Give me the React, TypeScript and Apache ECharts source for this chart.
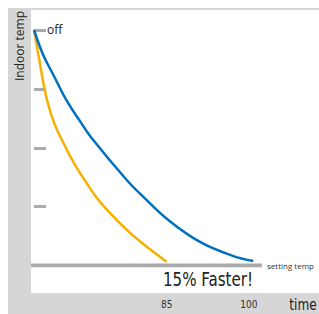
import React, { useEffect, useRef } from "react";
import * as echarts from "echarts";

// time (x) vs indoor temperature (y, 100 = off, 0 = setting temp)
const blueCurve: [number, number][] = [
  [0, 100], [4.2, 89.4], [8.8, 81], [14.9, 70], [20.9, 61.4], [26, 54.5],
  [42.3, 36.3], [50, 29], [61, 19.5], [75.7, 10], [90.9, 4], [100, 1.9],
];
const orangeCurve: [number, number][] = [
  [0, 100], [2, 89.5], [4, 79], [6, 70], [9, 61], [13.4, 52], [18.7, 42.7],
  [24, 35], [30.1, 27], [42.3, 15.1], [51, 8.3], [60.5, 1.6],
];
const settingLine: [number, number][] = [[-1.37, 0], [104, 0]];
const xTickValues = [60.5, 98];
const xTickLabels = ["85", "100"];
const yTicks = [0, 25, 50, 75, 100];

export default function App() {
  const ref = useRef<HTMLDivElement>(null);
  useEffect(() => {
    if (!ref.current) return;
    const chart = echarts.init(ref.current, null, { renderer: "svg" });
    const narrow = "'DejaVu Sans Condensed', 'Liberation Sans Narrow', 'DejaVu Sans', sans-serif";
    chart.setOption({
      animation: false,
      backgroundColor: "#d6d6d6",
      grid: { left: 23, right: 0, top: 22, bottom: 48.5 },
      graphic: [
        { type: "rect", z: -10, shape: { x: 23, y: 2, width: 288, height: 283 }, style: { fill: "#ffffff" } },
        {
          type: "text", x: 11, y: 3, rotation: Math.PI / 2,
          style: { text: "Indoor temp", fontSize: 12, fontFamily: "'Open Sans', sans-serif", fill: "#222", align: "right", verticalAlign: "middle" },
        },
        {
          type: "text", x: 39, y: 21.5,
          style: { text: "off", fontSize: 12, fontFamily: "'Open Sans', sans-serif", fill: "#222", align: "left", verticalAlign: "middle" },
        },
        {
          type: "text", x: 200, y: 271, scaleX: 0.84,
          style: { text: "15% Faster!", fontSize: 20, fontFamily: narrow, fill: "#222", align: "center", verticalAlign: "middle" },
        },
        {
          type: "text", x: 295, y: 297, scaleX: 0.9,
          style: { text: "time", fontSize: 15, fontFamily: narrow, fill: "#222", align: "center", verticalAlign: "middle" },
        },
      ],
      xAxis: {
        type: "value", min: -1.37, max: 130,
        axisLine: { show: false }, axisTick: { show: false }, splitLine: { show: false },
        axisLabel: {
          customValues: xTickValues,
          formatter: (v: number) => { const i = xTickValues.indexOf(v); return i >= 0 ? xTickLabels[i] : ""; },
          margin: 34, fontSize: 10, color: "#333", fontFamily: narrow,
        },
      },
      yAxis: {
        type: "value", min: 0, max: 100, interval: 25,
        axisLine: { show: false }, splitLine: { show: false },
        axisTick: { show: true, inside: true, length: 12, customValues: yTicks, lineStyle: { color: "#aaaaaa", width: 3 } },
        axisLabel: { show: false },
      },
      series: [
        {
          type: "line", data: settingLine, symbol: "none", z: 1,
          lineStyle: { color: "#aaaaaa", width: 4 },
          endLabel: { show: true, formatter: "setting temp", fontSize: 8, color: "#333", distance: 5, fontFamily: "'Open Sans', sans-serif" },
        },
        {
          type: "line", data: orangeCurve, symbol: "none", smooth: 0.4, z: 3,
          lineStyle: { color: "#f5b000", width: 2.5 },
        },
        {
          type: "line", data: blueCurve, symbol: "none", smooth: 0.4, z: 3,
          lineStyle: { color: "#0070c0", width: 2.5 },
        },
      ],
    });
    return () => chart.dispose();
  }, []);
  return <div ref={ref} style={{ position: "absolute", left: 8, top: 8, width: 311, height: 306 }} />;
}
